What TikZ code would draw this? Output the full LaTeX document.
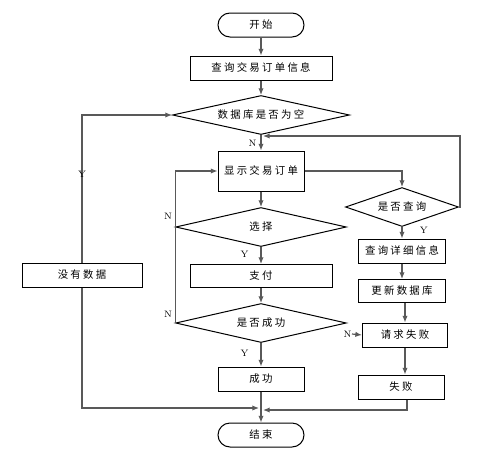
\documentclass[tikz,border=0pt]{standalone}
\usepackage{fontspec}
\newfontfamily\cjk[LetterSpace=22]{Noto Sans CJK SC}
\usetikzlibrary{arrows.meta,shapes.geometric}

\begin{document}
\begin{tikzpicture}[x=0.75pt,y=-0.75pt,box/.style={rectangle,draw,line width=0.75pt,fill=white,inner sep=0pt,minimum width=64.5pt,minimum height=18pt,font=\cjk\fontsize{7.8}{9}\selectfont},term/.style={box,rounded corners=9pt},choice/.style={diamond,draw,line width=0.75pt,inner sep=0pt,aspect=4.4,minimum width=128pt,minimum height=29.25pt,font=\cjk\fontsize{7.8}{9}\selectfont},flow/.style={draw=black!65,line width=0.9pt,-{Latex[length=5pt,width=4pt]}},link/.style={draw=black!65,line width=0.9pt},tag/.style={font=\fontsize{7}{8}\selectfont,inner sep=1pt}]
\useasboundingbox (0,0) rectangle (482,457);
\node[term] (start) at (261,25) {开始};
\node[box,minimum width=106.5pt] (query) at (261,68) {查询交易订单信息};
\node[choice,minimum width=132.75pt] (empty) at (261,115) {数据库是否为空};
\node[box,minimum height=30pt] (show) at (261,171) {显示交易订单};
\node[choice] (pick) at (261,227) {选择};
\node[box,minimum width=106.5pt,minimum height=17.25pt] (pay) at (261,276) {支付};
\node[choice] (okq) at (261,323) {是否成功};
\node[box] (ok) at (261,379) {成功};
\node[term] (finish) at (261,435) {结束};
\node[box,minimum width=90pt] (nodata) at (82,275) {没有数据};
\node[choice,minimum width=84.75pt,aspect=2.9] (ask) at (402,207) {是否查询};
\node[box,minimum width=65.25pt] (detail) at (402,251) {查询详细信息};
\node[box,minimum width=65.25pt,minimum height=17.25pt] (update) at (402,291) {更新数据库};
\node[box,minimum width=63.75pt] (req) at (405,335) {请求失败};
\node[box] (fail) at (401,387) {失败};
\coordinate (back) at (263,136);
\coordinate (joinl) at (259,408);
\coordinate (joinr) at (263,410);
\coordinate (nout) at (352,334);
\draw[flow] (start) -- (query);
\draw[flow] (query) -- (empty);
\draw[flow] (empty) -- node[tag,pos=0.55,left=2pt] {N} (show);
\draw[flow] (nodata.north) |- node[tag,pos=0.3] {Y} (empty.west);
\draw[flow] (show) -- (pick);
\draw[flow] (pick) -- node[tag,pos=0.45,left=8pt] {Y} (pay);
\draw[flow] (pay) -- (okq);
\draw[flow] (okq) -- node[tag,pos=0.45,left=8pt] {Y} (ok);
\draw[flow] (ok) -- (finish);
\draw[flow] (okq.west) |- (show.west);
\node[tag] at (168,216) {N};
\node[tag] at (168,314) {N};
\draw[flow] (show.east) -| (ask.north);
\draw[flow] (ask.east) -- (460,207) |- (back);
\draw[flow] (ask) -- node[tag,pos=0.3,right=12pt] {Y} (detail);
\draw[flow] (detail) -- (update);
\draw[flow] (req.north |- update.south) -- (req.north);
\draw[flow] (req) -- (req.south |- fail.north);
\draw[flow] (nout) -- node[tag,pos=0,left=-1pt] {N} (req.west);
\draw[flow] (fail.south -| 407,0) |- (joinr);
\draw[flow] (nodata.south) |- (joinl);
\end{tikzpicture}
\end{document}
